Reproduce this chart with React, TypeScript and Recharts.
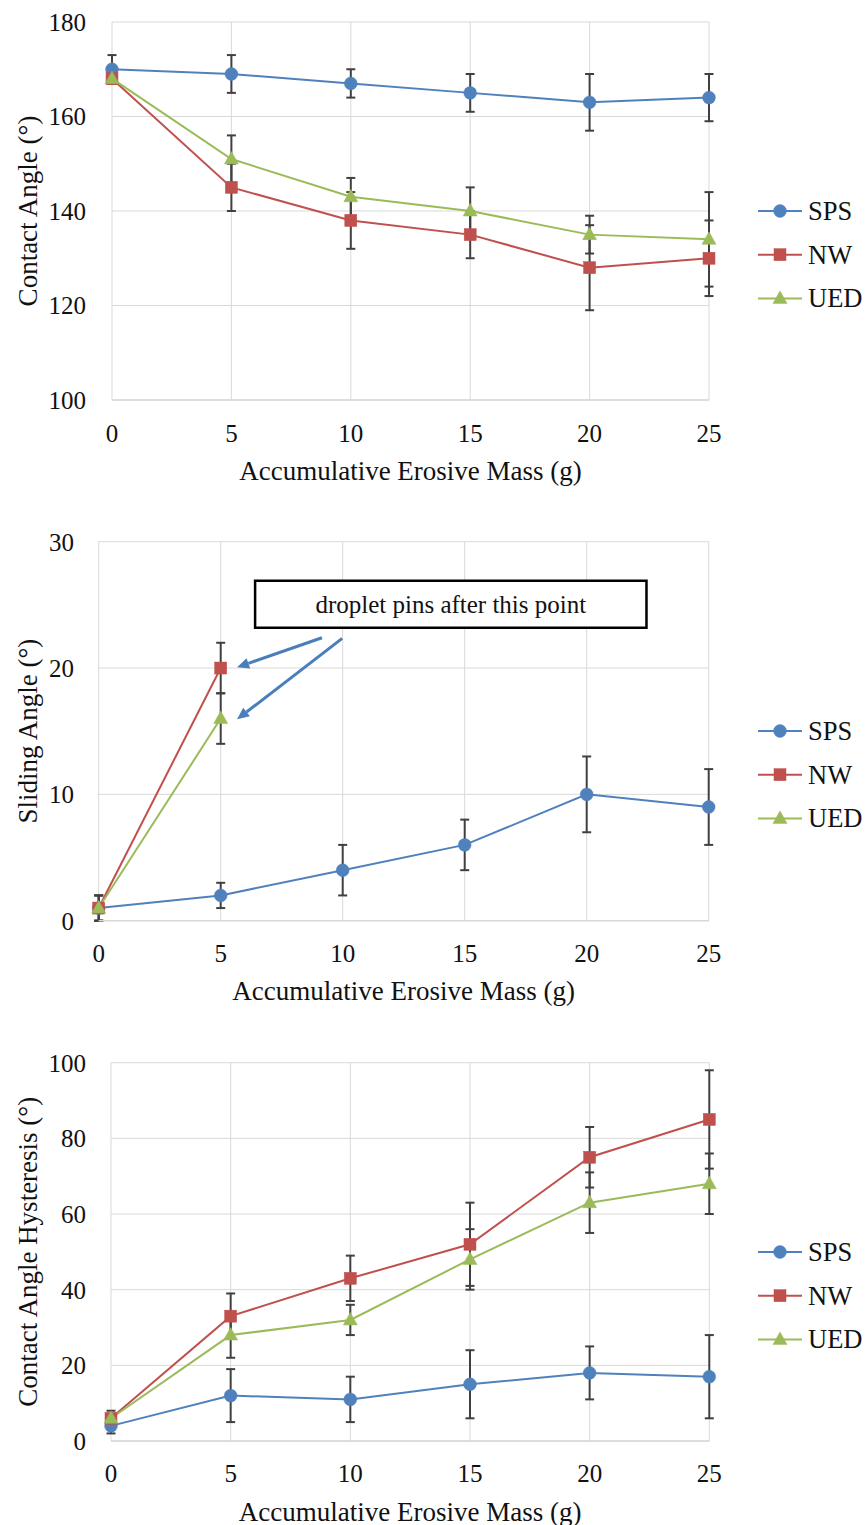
import React from 'react';
import {
  LineChart,
  Line,
  XAxis,
  YAxis,
  CartesianGrid,
  ErrorBar,
  Legend,
  ReferenceArea,
  ReferenceLine,
} from 'recharts';

// ---------- data ----------
const masses = [0, 5, 10, 15, 20, 25];
const seriesNames = ['SPS', 'NW', 'UED'];
const seriesColors = ['#4F81BD', '#C0504D', '#9BBB59'];
const xTitle = 'Accumulative Erosive Mass (g)';

// Contact angle
const caSPS = [170, 169, 167, 165, 163, 164];
const caSPSErr = [3, 4, 3, 4, 6, 5];
const caNW = [168, 145, 138, 135, 128, 130];
const caNWErr = [1, 5, 6, 5, 9, 8];
const caUED = [168, 151, 143, 140, 135, 134];
const caUEDErr = [1, 5, 4, 5, 4, 10];
const caTicks = [100, 120, 140, 160, 180];

// Sliding angle (NW and UED pin after 5 g)
const saSPS = [1, 2, 4, 6, 10, 9];
const saSPSErr = [1, 1, 2, 2, 3, 3];
const saNW = [1, 20];
const saNWErr = [1, 2];
const saUED = [1, 16];
const saUEDErr = [1, 2];
const saTicks = [0, 10, 20, 30];

// Contact angle hysteresis
const cahSPS = [4, 12, 11, 15, 18, 17];
const cahSPSErr = [2, 7, 6, 9, 7, 11];
const cahNW = [6, 33, 43, 52, 75, 85];
const cahNWErr = [2, 6, 6, 11, 8, 13];
const cahUED = [6, 28, 32, 48, 63, 68];
const cahUEDErr = [1, 6, 4, 8, 8, 8];
const cahTicks = [0, 20, 40, 60, 80, 100];

// annotation (data space of the sliding-angle chart)
const noteText = 'droplet pins after this point';
const noteBox = { x1: 6.41, x2: 22.45, y1: 23.18, y2: 26.9 };
const noteArrows = [
  [{ x: 9.15, y: 22.4 }, { x: 5.67, y: 20.06 }],
  [{ x: 9.98, y: 22.35 }, { x: 5.67, y: 15.94 }],
];

const build = (
  a: number[], aE: number[], b: number[], bE: number[], c: number[], cE: number[]
) =>
  masses.map((m, i) => ({
    mass: m,
    SPS: a[i] ?? null,
    SPSErr: aE[i],
    NW: b[i] ?? null,
    NWErr: bE[i],
    UED: c[i] ?? null,
    UEDErr: cE[i],
  }));

const caData = build(caSPS, caSPSErr, caNW, caNWErr, caUED, caUEDErr);
const saData = build(saSPS, saSPSErr, saNW, saNWErr, saUED, saUEDErr);
const cahData = build(cahSPS, cahSPSErr, cahNW, cahNWErr, cahUED, cahUEDErr);

// ---------- styling ----------
const FONT = "'Liberation Serif', 'Times New Roman', serif";
const TEXT = '#111';
const GRID = '#D9D9D9';
const ERR = '#404040';
const ARROW = '#4A7EBB';

const marker = (idx: number, cx: number, cy: number, key?: string) => {
  const color = seriesColors[idx];
  if (idx === 0) return <circle key={key} cx={cx} cy={cy} r={6.4} fill={color} stroke={color} strokeWidth={0.5} />;
  if (idx === 1) return <rect key={key} x={cx - 6} y={cy - 6} width={12} height={12} fill={color} stroke={color} strokeWidth={0.5} />;
  return (
    <polygon
      key={key}
      points={`${cx},${cy - 7.5} ${cx + 7},${cy + 5} ${cx - 7},${cy + 5}`}
      fill={color}
      stroke={color}
      strokeWidth={0.5}
    />
  );
};

const dotFor = (idx: number) => (props: any) => {
  const k = `dot-${idx}-${props.index}`;
  if (props.cx == null || props.cy == null || props.value == null) return <g key={k} />;
  return marker(idx, props.cx, props.cy, k);
};

const LegendBox = () => (
  <svg width={115} height={130} style={{ display: 'block', overflow: 'visible' }}>
    {seriesNames.map((n, i) => {
      const y = 20 + i * 43.7;
      return (
        <g key={n}>
          <line x1={0} x2={44} y1={y} y2={y} stroke={seriesColors[i]} strokeWidth={2} />
          {marker(i, 22, y)}
          <text x={50} y={y + 9} fontSize={26.5} fontFamily={FONT} fill={TEXT}>
            {n}
          </text>
        </g>
      );
    })}
  </svg>
);

const arrowShape = (p: any) => {
  const { x1, y1, x2, y2 } = p;
  const dx = x2 - x1;
  const dy = y2 - y1;
  const len = Math.hypot(dx, dy) || 1;
  const ux = dx / len;
  const uy = dy / len;
  const hl = 12;
  const hw = 5.5;
  const bx = x2 - ux * hl;
  const by = y2 - uy * hl;
  return (
    <g>
      <line x1={x1} y1={y1} x2={bx} y2={by} stroke={ARROW} strokeWidth={3} />
      <polygon
        points={`${x2},${y2} ${bx - uy * hw},${by + ux * hw} ${bx + uy * hw},${by - ux * hw}`}
        fill={ARROW}
      />
    </g>
  );
};

type PanelProps = {
  data: any[];
  height: number;
  margin: { top: number; right: number; bottom: number; left: number };
  yWidth: number;
  xHeight: number;
  yDomain: [number, number];
  yTicks: number[];
  yTitle: string;
  xTickMargin: number;
  yTickMargin: number;
  legendTop: number;
  children?: React.ReactNode;
};

const Panel = (p: PanelProps) => (
  <LineChart width={865} height={p.height} data={p.data} margin={p.margin}>
    <CartesianGrid stroke={GRID} strokeWidth={1} horizontal vertical />
    <XAxis
      dataKey="mass"
      type="number"
      domain={[0, 25]}
      ticks={masses}
      height={p.xHeight}
      tickLine={false}
      tickMargin={p.xTickMargin}
      axisLine={{ stroke: GRID, strokeWidth: 1.5 }}
      tick={{ fontSize: 25, fill: TEXT, fontFamily: FONT }}
      label={{
        value: xTitle,
        position: 'insideTop',
        offset: 60.5,
        fontSize: 27,
        fill: TEXT,
        fontFamily: FONT,
      }}
    />
    <YAxis
      type="number"
      domain={p.yDomain}
      ticks={p.yTicks}
      width={p.yWidth}
      tickLine={false}
      axisLine={false}
      tickMargin={p.yTickMargin}
      tick={{ fontSize: 25, fill: TEXT, fontFamily: FONT }}
      label={{
        value: p.yTitle,
        angle: -90,
        position: 'insideLeft',
        offset: 27,
        fontSize: 27,
        fill: TEXT,
        fontFamily: FONT,
        style: { textAnchor: 'middle' },
      }}
    />
    {p.children}
    {seriesNames.map((n, i) => (
      <Line
        key={n}
        type="linear"
        dataKey={n}
        name={n}
        stroke={seriesColors[i]}
        strokeWidth={2}
        dot={dotFor(i)}
        activeDot={false}
        isAnimationActive={false}
      >
        <ErrorBar dataKey={`${n}Err`} direction="y" width={4.5} stroke={ERR} strokeWidth={2} />
      </Line>
    ))}
    <Legend
      layout="vertical"
      align="center"
      verticalAlign="middle"
      content={() => <LegendBox />}
      wrapperStyle={{ left: 758, top: p.legendTop, width: 115, height: 130 }}
    />
  </LineChart>
);

export default function App() {
  return (
    <div
      style={{
        position: 'absolute',
        left: 0,
        top: 0,
        width: 865,
        height: 1525,
        background: '#fff',
        overflow: 'hidden',
      }}
    >
      <div style={{ position: 'absolute', left: 0, top: 0 }}>
        <Panel
          data={caData}
          height={510}
          margin={{ top: 22, right: 156, bottom: 20, left: 0 }}
          yWidth={112}
          xHeight={90}
          yDomain={[100, 180]}
          yTicks={caTicks}
          yTitle="Contact Angle (°)"
          xTickMargin={18}
          yTickMargin={20}
          legendTop={190.7}
        />
      </div>
      <div style={{ position: 'absolute', left: 0, top: 510 }}>
        <Panel
          data={saData}
          height={510}
          margin={{ top: 31.7, right: 156.3, bottom: 9.3, left: 0 }}
          yWidth={98.7}
          xHeight={90}
          yDomain={[0, 30]}
          yTicks={saTicks}
          yTitle="Sliding Angle (°)"
          xTickMargin={17.5}
          yTickMargin={18.7}
          legendTop={201}
        >
          <ReferenceArea
            x1={noteBox.x1}
            x2={noteBox.x2}
            y1={noteBox.y1}
            y2={noteBox.y2}
            fill="#fff"
            fillOpacity={1}
            stroke="#000"
            strokeWidth={2.5}
            label={{ value: noteText, position: 'center', fontSize: 25, fill: TEXT, fontFamily: FONT }}
          />
          {noteArrows.map((seg, i) => (
            <ReferenceLine key={i} segment={seg} shape={arrowShape} />
          ))}
        </Panel>
      </div>
      <div style={{ position: 'absolute', left: 0, top: 1020 }}>
        <Panel
          data={cahData}
          height={505}
          margin={{ top: 42.7, right: 155.7, bottom: 4, left: 0 }}
          yWidth={111}
          xHeight={80}
          yDomain={[0, 100]}
          yTicks={cahTicks}
          yTitle="Contact Angle Hysteresis (°)"
          xTickMargin={17}
          yTickMargin={19}
          legendTop={211.7}
        />
      </div>
    </div>
  );
}
